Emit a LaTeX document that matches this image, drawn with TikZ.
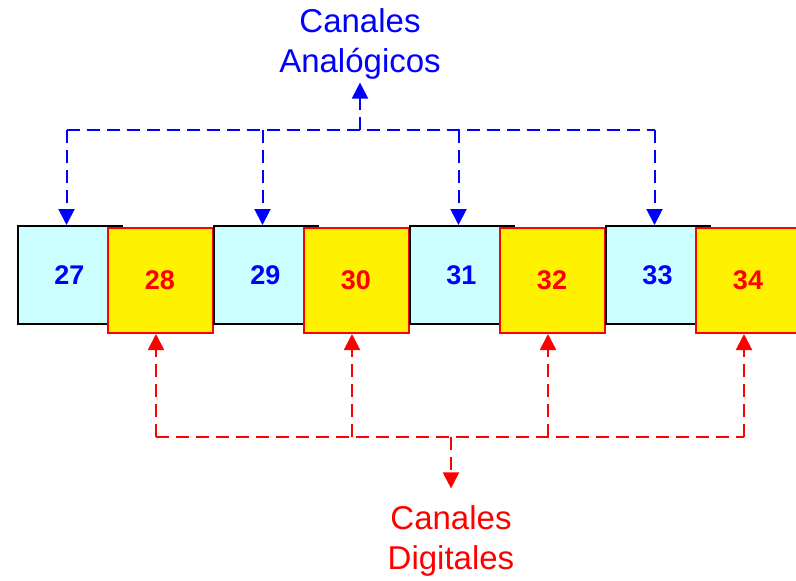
\documentclass[tikz,border=0pt]{standalone}
\usepackage{fontspec}
\setmainfont{Liberation Sans}
\usetikzlibrary{arrows.meta,positioning}
\definecolor{lightcyan}{RGB}{204,255,255}
\tikzset{%
	analog/.style   = {draw=black, fill=lightcyan, line width=2pt, minimum width=104pt, minimum height=98pt, inner sep=0pt, text=blue, font=\fontsize{27}{30}\selectfont\bfseries}, % Analog channel
	digital/.style  = {draw=red, fill=yellow, line width=2pt, minimum width=105pt, minimum height=105pt, inner sep=0pt, text=red, font=\fontsize{27}{30}\selectfont\bfseries}, % Digital channel
	chantext/.style = {align=center, inner sep=3pt, font=\fontsize{33}{40}\selectfont},
	adash/.style    = {blue, line width=2pt, dash pattern=on 13pt off 7pt},
	ddash/.style    = {red, line width=2pt, dash pattern=on 13pt off 7pt},
	waypoint/.style = {coordinate},
	>={Triangle[length=16pt,width=16pt]},
}
\begin{document}
\begin{tikzpicture}[x=1pt, y=-1pt]
	\useasboundingbox (0,0) rectangle (796,581);
	\node[analog] (c27) at (69.5,275) {27};
	\node[digital,right of=c27,node distance=90.5pt,yshift=-5.5pt] (d28) {28};
	\node[analog,right of=d28,node distance=105.5pt,yshift=5.5pt] (c29) {29};
	\node[digital,right of=c29,node distance=90.5pt,yshift=-5.5pt] (d30) {30};
	\node[analog,right of=d30,node distance=105.5pt,yshift=5.5pt] (c31) {31};
	\node[digital,right of=c31,node distance=90.5pt,yshift=-5.5pt] (d32) {32};
	\node[analog,right of=d32,node distance=105.5pt,yshift=5.5pt] (c33) {33};
	\node[digital,right of=c33,node distance=90.5pt,yshift=-5.5pt] (d34) {34};

	\node[chantext,text=blue] (alabel) at (360,44) {Canales\\Anal\'ogicos};
	\node[chantext,text=red] (dlabel) at (451,541) {Canales\\Digitales};
	\node[waypoint] (wa) at (360,130) {};
	\node[waypoint] (wd) at (451,437) {};

	% analog bus
	\draw[adash] ([xshift=-3pt]c27.north |- wa) -- ([xshift=-3pt]c33.north |- wa);
	\draw[adash,->] (wa) -- (alabel);
	\draw[adash,->] ([xshift=-3pt]c27.north |- wa) -- ([xshift=-3pt]c27.north);
	\draw[adash,->] ([xshift=-3pt]c29.north |- wa) -- ([xshift=-3pt]c29.north);
	\draw[adash,->] ([xshift=-3pt]c31.north |- wa) -- ([xshift=-3pt]c31.north);
	\draw[adash,->] ([xshift=-3pt]c33.north |- wa) -- ([xshift=-3pt]c33.north);

	% digital bus
	\draw[ddash] ([xshift=-4pt]d28.south |- wd) -- ([xshift=-4pt]d34.south |- wd);
	\draw[ddash,->,shorten >=14pt] (wd) -- (dlabel);
	\draw[ddash,->] ([xshift=-4pt]d28.south |- wd) -- ([xshift=-4pt]d28.south);
	\draw[ddash,->] ([xshift=-4pt]d30.south |- wd) -- ([xshift=-4pt]d30.south);
	\draw[ddash,->] ([xshift=-4pt]d32.south |- wd) -- ([xshift=-4pt]d32.south);
	\draw[ddash,->] ([xshift=-4pt]d34.south |- wd) -- ([xshift=-4pt]d34.south);
\end{tikzpicture}
\end{document}
